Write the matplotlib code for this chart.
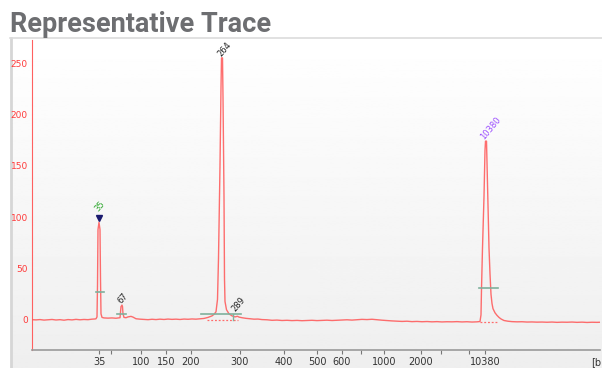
import numpy as np
import matplotlib
matplotlib.use('Agg')
import matplotlib.pyplot as plt
from matplotlib.lines import Line2D

# migration time (s) vs fluorescence for the trace
trace_t = [20.0, 20.4, 20.8, 21.2, 21.6, 22.0, 22.4, 22.8, 23.2, 23.6, 24.0, 24.4, 24.8, 25.2, 25.6, 26.0, 26.3,
           26.4, 26.5, 26.55, 26.6, 26.7, 26.8, 26.85, 26.9, 27.0, 27.2, 27.6, 28.0, 28.4, 28.7,
           28.8, 28.85, 28.9, 29.0, 29.05, 29.1, 29.2, 29.4, 29.6, 29.9, 30.1, 30.4, 30.8,
           31.2, 31.6, 32.0, 32.4, 32.8, 33.2, 33.6, 34.0, 34.4, 34.8, 35.2, 35.6, 36.0, 36.4, 36.8,
           37.2, 37.6, 38.0, 38.2, 38.4, 38.55, 38.65, 38.8, 38.9, 38.95, 39.05, 39.1, 39.2, 39.25, 39.3,
           39.45, 39.7, 40.0, 40.3, 40.55, 40.7, 41.0,
           41.4, 41.8, 42.2, 42.6, 43.0, 43.5, 44.0, 44.5, 45.0, 45.5, 46.0, 46.5, 47.0, 47.5, 48.0, 48.5,
           49.0, 49.5, 50.0, 50.5, 51.0, 51.5, 52.0, 52.5, 53.0, 53.5, 54.0, 54.5, 55.0, 55.5, 56.0, 56.5,
           57.0, 57.5, 58.0, 58.5, 59.0, 59.5, 60.0, 60.5, 61.0, 61.5, 62.0, 62.5, 63.0, 63.5, 64.0, 64.5,
           64.8, 64.9, 64.95, 65.05, 65.2, 65.3, 65.35, 65.45, 65.5, 65.6, 65.7, 65.8, 65.9, 66.0, 66.1,
           66.3, 66.5, 66.7, 66.9, 67.2, 67.6, 68.0, 68.5, 69.0, 69.5, 70.0, 70.5, 71.0, 71.5, 72.0, 72.5,
           73.0, 73.5, 74.0, 74.5, 75.0, 75.5, 76.0, 76.5, 76.8]
trace_rfu = [0.3, 0.1, 0.4, -0.1, 0.2, 0.5, 0.0, 0.3, -0.2, 0.4, 0.1, 0.6, 0.2, 0.5, 0.3, 0.8, 1.0,
             1.2, 3.0, 33, 88, 95, 88, 40, 6.0, 2.5, 2.0, 1.8, 2.0, 1.7, 2.0,
             2.2, 8.0, 13, 14.5, 13, 6.0, 2.5, 2.2, 3.0, 3.5, 2.8, 1.2, 0.8,
             0.6, 0.3, 0.7, 0.4, 0.8, 0.5, 0.9, 0.6, 0.8, 0.5, 0.9, 0.7, 1.0, 0.8, 1.2,
             1.5, 2.5, 4.0, 5.5, 8.0, 20, 60, 150, 226, 255, 255, 217, 120, 40, 18,
             10, 6.0, 4.0, 3.0, 3.6, 2.8, 2.2,
             1.6, 1.2, 0.8, 0.9, 0.4, 0.2, -0.3, -0.1, -0.5, -0.3, -0.6, -0.4, -0.7, -0.5, -0.3, -0.6,
             -0.4, -0.2, -0.5, -0.3, 0.0, 0.2, -0.1, 0.3, 0.6, 0.4, 0.7, 0.2, -0.2, -0.6, -0.9, -1.2,
             -1.4, -1.2, -1.6, -1.4, -1.7, -1.5, -1.8, -1.6, -1.9, -1.7, -1.8, -1.6, -1.9, -1.7, -2.0, -1.8,
             -1.5, 5.0, 30, 70, 120, 165, 174, 174, 153, 110, 70, 45, 25, 16, 11,
             7.0, 4.5, 2.5, 1.0, -0.5, -1.2, -1.6, -1.8, -1.7, -2.0, -1.9, -2.1, -2.0, -2.2, -2.0, -2.3,
             -2.1, -2.2, -2.0, -2.3, -2.1, -2.4, -2.2, -2.3, -2.2]

# ladder: tick position (s) and size label (bp)
ladder_t = [26.73, 27.9, 30.93, 33.43, 35.9, 40.8, 45.2, 48.5, 51.0, 52.9, 55.2, 58.9, 60.9, 63.7, 65.33]
ladder_bp = ['35', '', '100', '150', '200', '300', '400', '500', '600', '', '1000', '2000', '', '', '10380']

# called peaks
peak_t = [26.75, 29.05, 39.3, 40.65, 65.9]
peak_label_y = [111, 21, 263, 15, 187]
peak_names = ['35', '67', '264', '289', '10380']
peak_colors = ['#2fa82f', '#222222', '#222222', '#222222', '#9b4dff']

# peak width bars (start, end, level)
bar_start = [26.4, 28.47, 36.9, 64.73]
bar_end = [27.23, 29.4, 40.9, 66.63]
bar_level = [27, 6, 5.5, 31]

# integration baselines under the big peaks
base_start = [37.5, 64.8]
base_end = [40.6, 66.6]
base_level = [0.0, -2.0]

fig = plt.figure(figsize=(6.02, 3.68), dpi=100)

# panel background with light gradient
bg = fig.add_axes([12/602, 0, 590/602, 329/368])
bg.set_zorder(-2)
grad = np.linspace(1.0, 0.935, 256).reshape(-1, 1)
bg.imshow(grad, aspect='auto', cmap='gray', vmin=0, vmax=1, extent=[0, 1, 0, 1])
bg.set_axis_off()
fig.add_artist(Line2D([11/602, 11/602], [0, 330/368], color='#d6d6d6', lw=2, zorder=-1))
fig.add_artist(Line2D([10/602, 1], [330/368, 330/368], color='#dcdcdc', lw=1.2, zorder=-1))

fig.text(10/602, 336/368, 'Representative Trace', fontsize=19.5, fontweight='bold',
         color='#6d6e71', family='Roboto', ha='left', va='baseline')

ax = fig.add_axes([32/602, 18/368, 568/602, 310/368])
ax.patch.set_alpha(0)
ax.set_xlim(20, 76.8)
ax.set_ylim(-29.2, 272.4)

ax.plot(trace_t, trace_rfu, color='#ff5555', lw=1.0, alpha=0.85, zorder=3)

for s, e, lv in zip(base_start, base_end, base_level):
    ax.plot([s, e], [lv, lv], color='#ff6b6b', lw=0.9, ls=(0, (1.5, 1.5)), zorder=2)

for s, e, lv in zip(bar_start, bar_end, bar_level):
    ax.plot([s, e], [lv, lv], color='#7fb09c', lw=1.2, zorder=4)
ax.plot([40.1, 40.1], [0, bar_level[2]], color='#7fb09c', lw=1.0, zorder=4)

# top-of-peak marker on the lower marker
ax.plot([peak_t[0]], [99], marker='v', color='#1a1a6e', markersize=4.5, zorder=5)

for t, ly, name, c in zip(peak_t, peak_label_y, peak_names, peak_colors):
    ax.text(t, ly, name, color=c, fontsize=6, rotation=50, ha='center', va='center', zorder=6)

ax.set_xticks(ladder_t)
ax.set_xticklabels(ladder_bp)
ax.set_yticks([0, 50, 100, 150, 200, 250])

ax.spines['top'].set_visible(False)
ax.spines['right'].set_visible(False)
ax.spines['left'].set_color('#ff6060')
ax.spines['bottom'].set_color('#9a9a9a')
ax.spines['bottom'].set_linewidth(1.2)
ax.tick_params(axis='y', length=0, pad=3, labelsize=6.5, labelcolor='#ff3b3b')
ax.tick_params(axis='x', length=3, width=0.8, color='#777777', pad=2, labelsize=7, labelcolor='#333333')

ax.text(559/568, -0.027, '[bp]', transform=ax.transAxes, fontsize=7, color='#333333',
        ha='left', va='top', clip_on=False)

plt.savefig('out.png', dpi=100)
